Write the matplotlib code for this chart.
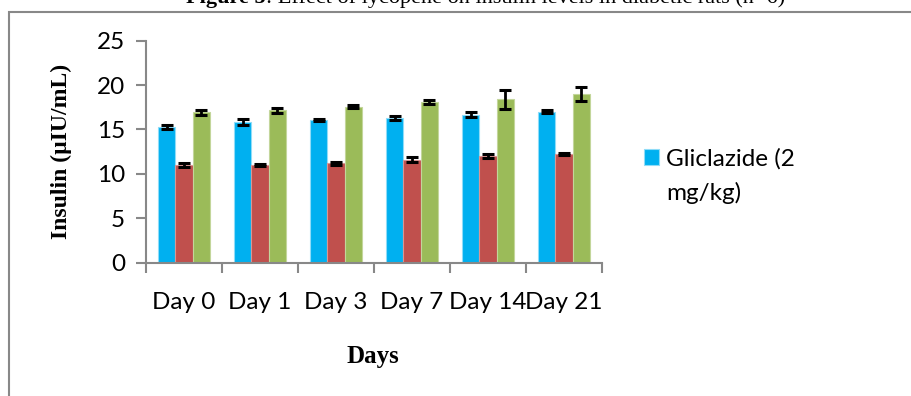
import numpy as np
import matplotlib
matplotlib.use("Agg")
from matplotlib import pyplot as plt
from matplotlib.patches import Rectangle

days = ['Day 0', 'Day 1', 'Day 3', 'Day 7', 'Day 14', 'Day 21']
series_names = ['Gliclazide (2 mg/kg)', 'Diabetic control', 'Lycopene']
glic = [15.28, 15.84, 16.03, 16.26, 16.66, 17.0]
glic_err = [0.25, 0.3, 0.12, 0.25, 0.25, 0.15]
control = [10.96, 10.96, 11.18, 11.59, 12.0, 12.23]
control_err = [0.2, 0.1, 0.2, 0.3, 0.2, 0.1]
lyco = [16.93, 17.16, 17.56, 18.06, 18.4, 19.0]
lyco_err = [0.3, 0.3, 0.15, 0.25, 1.05, 0.75]

colors = ['#00B0F0', '#C0504D', '#9BBB59']
edges = ['#8FDCF8', '#D99694', '#C3D69B']

W, H = 912, 396
fig = plt.figure(figsize=(W / 100, H / 100), dpi=100)
ax = fig.add_axes([146 / W, 1 - 262.5 / H, (602 - 146) / W, (262.5 - 40.7) / H])

# outer chart frame
fig.add_artist(Rectangle((9 / W, -0.1), 1.2, 1 - 12 / H + 0.1, transform=fig.transFigure,
                         fill=False, edgecolor='#888888', linewidth=1.5))

x = np.arange(len(days)) + 0.5
bw = 0.224
vals = [glic, control, lyco]
errs = [glic_err, control_err, lyco_err]
bars = []
for i in range(3):
    b = ax.bar(x + (i - 1) * bw, vals[i], bw, color=colors[i], edgecolor=edges[i], linewidth=0.8,
               yerr=errs[i], error_kw=dict(ecolor='black', elinewidth=2, capsize=4.5, capthick=2.2),
               zorder=2)
    bars.append(b)

ax.set_xlim(0, 6)
ax.set_ylim(0, 25)
ax.set_yticks(np.arange(0, 26, 5))
ax.set_xticks(np.arange(0, 7))
ax.set_xticklabels([])
ax.set_xticks(x, minor=True)
ax.set_xticklabels(days, minor=True)
ax.tick_params(axis='x', which='minor', length=0, pad=21, labelsize=17.5)
ax.tick_params(axis='x', which='major', length=7, width=1.5, color='#888888', direction='out')
ax.tick_params(axis='y', length=7, width=1.5, color='#888888', direction='out', pad=8, labelsize=17.5)
for lab in ax.get_xticklabels(minor=True) + ax.get_yticklabels():
    lab.set_fontfamily('Lato')
for s in ['top', 'right']:
    ax.spines[s].set_visible(False)
for s in ['left', 'bottom']:
    ax.spines[s].set_color('#888888')
    ax.spines[s].set_linewidth(1.5)

fig.text(61 / W, 1 - 151 / H, 'Insulin (µIU/mL)', rotation=90, ha='center', va='center',
         family='Liberation Serif', weight='bold', fontsize=17)
fig.text(373 / W, 1 - 357 / H, 'Days', ha='center', va='center',
         family='Liberation Serif', weight='bold', fontsize=18)

# title: bold "Figure 5" followed by regular text (partly cut at top as in the original)
t1 = fig.text(186 / W, 1 - 3 / H, 'Figure 5', ha='left', va='baseline',
              family='Liberation Serif', weight='bold', fontsize=16)
fig.canvas.draw()
bb = t1.get_window_extent()
fig.text(bb.x1 / W, 1 - 3 / H, ': Effect of lycopene on insulin levels in diabetic rats (n=6)',
         ha='left', va='baseline', family='Liberation Serif', fontsize=16)

first, second = series_names[0].split(' ', 2)[:2], series_names[0].split(' ', 2)[2]
leg = fig.legend([bars[0]], [' '.join(first)], loc='upper left', bbox_to_anchor=(622 / W, 1 - 126 / H),
                 frameon=False, handlelength=0.62, handleheight=0.62, handletextpad=0.3,
                 prop=dict(family='Lato', size=17.5))
fig.canvas.draw()
tb = leg.get_texts()[0].get_window_extent()
fig.text(tb.x0 / W, 1 - 193 / H, second, ha='left', va='center', family='Lato', fontsize=17.5)

fig.savefig('out.png', dpi=100)
